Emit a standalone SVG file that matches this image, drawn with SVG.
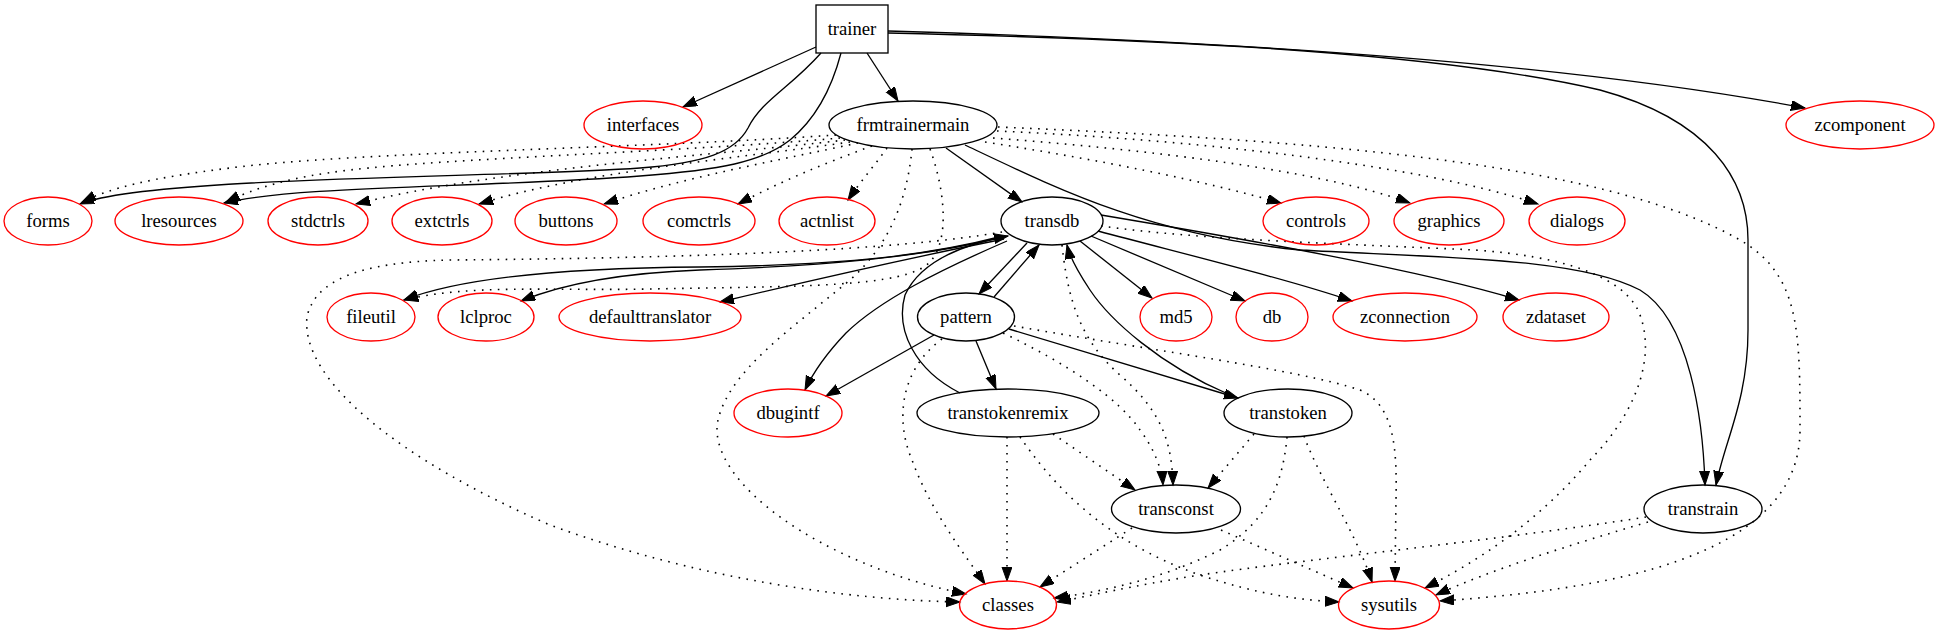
<svg xmlns="http://www.w3.org/2000/svg" width="1939" height="635" viewBox="0 0 1939 635">
<style>
.ext{fill:none;stroke:#ff0000;stroke-width:1.33}
.int{fill:none;stroke:#000000;stroke-width:1.33}
.lbl{font-family:'Liberation Serif','Times New Roman',serif;font-size:18.67px;fill:#000;text-anchor:middle}
.e{fill:none;stroke:#000;stroke-width:1.33;marker-end:url(#ah)}
.d{stroke-width:1.6;stroke-dasharray:1.6,6.4}
</style>
<defs>
<marker id="ah" markerUnits="userSpaceOnUse" markerWidth="16" markerHeight="12" refX="14" refY="5" orient="auto">
<path d="M0,0 L14,5 L0,10 Z" fill="#000" stroke="#000" stroke-width="1"/>
</marker>
</defs>
<rect width="1939" height="635" fill="#fff"/>
<g id="edges">
<path class="e" d="M816,47 L683,107"/>
<path class="e" d="M821,53 C790,88 762,100 748,128 C735,152 705,163 640,168 C500,178 150,176 80,204"/>
<path class="e" d="M841,53 C830,95 812,122 790,140 C762,162 720,170 640,176 C480,188 300,185 224,203"/>
<path class="e" d="M867,53 L898,101"/>
<path class="e" d="M888,31 C1200,40 1550,60 1805,108"/>
<path class="e" d="M888,33 C1200,40 1450,55 1600,90 C1710,120 1748,180 1748,240 L1748,330 C1748,400 1725,440 1716,485"/>
<path class="e" d="M946,148 L1022,202"/>
<path class="e" d="M965,145 C1060,190 1150,235 1300,250 C1450,258 1580,258 1640,290 C1690,320 1703,420 1705,485"/>
<path class="e" d="M1003,236 C930,255 850,265 700,267 C560,268 460,278 404,300"/>
<path class="e" d="M1003,237 C920,258 820,266 700,270 C620,273 560,285 521,301"/>
<path class="e" d="M1004,239 C920,256 800,283 720,302"/>
<path class="e" d="M1007,241 C940,270 880,300 846,333 C825,355 812,375 805,390"/>
<path class="e" d="M1027,243 L979,294"/>
<path class="e" d="M994,297 L1039,245"/>
<path class="e" d="M1080,241 L1152,298"/>
<path class="e" d="M1091,236 L1245,301"/>
<path class="e" d="M1098,231 C1200,258 1290,280 1352,301"/>
<path class="e" d="M1101,215 C1250,240 1420,270 1519,300"/>
<path class="e" d="M934,335 L826,396"/>
<path class="e" d="M976,341 L996,389"/>
<path class="e" d="M1009,329 L1238,398"/>
<path class="e" d="M960,393 C915,370 895,330 905,295 C920,262 960,245 1008,236"/>
<path class="e" d="M1228,394 C1160,365 1110,320 1090,290 C1078,272 1070,258 1067,245"/>
<path class="e d" d="M836,135 C650,148 350,152 230,168 C150,178 110,188 82,202"/>
<path class="e d" d="M840,138 C680,152 450,158 350,170 C290,177 255,188 226,202"/>
<path class="e d" d="M845,140 C720,155 500,168 356,204"/>
<path class="e d" d="M850,142 C740,158 580,172 479,204"/>
<path class="e d" d="M858,143 C780,160 680,178 604,204"/>
<path class="e d" d="M872,146 C820,165 780,182 738,204"/>
<path class="e d" d="M887,148 C875,165 860,182 848,200"/>
<path class="e d" d="M912,149 C908,190 895,240 850,280 C790,330 730,370 718,420 C705,480 820,565 966,594"/>
<path class="e d" d="M930,149 C945,190 950,240 930,262 C905,288 800,286 650,289 C550,291 470,284 404,300"/>
<path class="e d" d="M985,142 C1100,160 1200,180 1281,203"/>
<path class="e d" d="M993,138 C1150,150 1320,170 1410,203"/>
<path class="e d" d="M997,131 C1200,140 1420,165 1538,204"/>
<path class="e d" d="M998,127 C1300,140 1600,160 1740,240 C1800,275 1800,330 1800,430 C1800,560 1600,590 1440,601"/>
<path class="e d" d="M1002,232 C900,250 700,258 450,260 C360,262 315,280 307,317 C300,380 400,460 550,525 C700,580 850,600 960,602"/>
<path class="e d" d="M1062,245 C1068,300 1080,340 1120,375 C1160,410 1172,440 1173,485"/>
<path class="e d" d="M1101,226 C1200,240 1350,244 1475,250 C1560,256 1620,275 1638,310 C1660,360 1630,420 1590,460 C1540,520 1480,560 1425,588"/>
<path class="e d" d="M942,339 C900,370 895,420 912,460 C930,510 965,555 985,584"/>
<path class="e d" d="M1003,333 C1070,365 1120,400 1140,430 C1155,450 1162,470 1163,485"/>
<path class="e d" d="M1014,326 C1150,350 1300,370 1360,390 C1395,405 1397,450 1396,500 L1395,581"/>
<path class="e d" d="M1007,437 L1007,581"/>
<path class="e d" d="M1053,434 L1135,490"/>
<path class="e d" d="M1020,437 C1050,480 1100,540 1200,575 C1260,595 1300,600 1339,602"/>
<path class="e d" d="M1254,434 L1208,488"/>
<path class="e d" d="M1287,437 C1283,480 1270,520 1220,550 C1160,580 1100,592 1054,598"/>
<path class="e d" d="M1304,436 C1320,480 1355,530 1372,582"/>
<path class="e d" d="M1132,528 L1040,587"/>
<path class="e d" d="M1221,530 L1353,588"/>
<path class="e d" d="M1646,517 C1500,540 1300,560 1200,575 C1130,586 1090,596 1057,602"/>
<path class="e d" d="M1648,522 C1570,545 1490,570 1436,595"/>
</g>
<g id="node-trainer"><rect class="int" x="816" y="5" width="72" height="48"/><text class="lbl" x="852" y="34.6" font-family="Liberation Serif, serif">trainer</text></g>
<g id="node-interfaces"><ellipse class="ext" cx="643" cy="125" rx="59" ry="24"/><text class="lbl" x="643" y="130.6">interfaces</text></g>
<g id="node-frmtrainermain"><ellipse class="int" cx="913" cy="125" rx="84" ry="24"/><text class="lbl" x="913" y="130.6">frmtrainermain</text></g>
<g id="node-zcomponent"><ellipse class="ext" cx="1860" cy="125" rx="74" ry="24"/><text class="lbl" x="1860" y="130.6">zcomponent</text></g>
<g id="node-forms"><ellipse class="ext" cx="48" cy="221" rx="44" ry="24"/><text class="lbl" x="48" y="226.6">forms</text></g>
<g id="node-lresources"><ellipse class="ext" cx="179" cy="221" rx="64" ry="24"/><text class="lbl" x="179" y="226.6">lresources</text></g>
<g id="node-stdctrls"><ellipse class="ext" cx="318" cy="221" rx="50" ry="24"/><text class="lbl" x="318" y="226.6">stdctrls</text></g>
<g id="node-extctrls"><ellipse class="ext" cx="442" cy="221" rx="50" ry="24"/><text class="lbl" x="442" y="226.6">extctrls</text></g>
<g id="node-buttons"><ellipse class="ext" cx="566" cy="221" rx="51" ry="24"/><text class="lbl" x="566" y="226.6">buttons</text></g>
<g id="node-comctrls"><ellipse class="ext" cx="699" cy="221" rx="56" ry="24"/><text class="lbl" x="699" y="226.6">comctrls</text></g>
<g id="node-actnlist"><ellipse class="ext" cx="827" cy="221" rx="48" ry="24"/><text class="lbl" x="827" y="226.6">actnlist</text></g>
<g id="node-transdb"><ellipse class="int" cx="1052" cy="221" rx="51" ry="24"/><text class="lbl" x="1052" y="226.6">transdb</text></g>
<g id="node-controls"><ellipse class="ext" cx="1316" cy="221" rx="53" ry="24"/><text class="lbl" x="1316" y="226.6">controls</text></g>
<g id="node-graphics"><ellipse class="ext" cx="1449" cy="221" rx="55" ry="24"/><text class="lbl" x="1449" y="226.6">graphics</text></g>
<g id="node-dialogs"><ellipse class="ext" cx="1577" cy="221" rx="48" ry="24"/><text class="lbl" x="1577" y="226.6">dialogs</text></g>
<g id="node-fileutil"><ellipse class="ext" cx="371" cy="317" rx="44" ry="24"/><text class="lbl" x="371" y="322.6">fileutil</text></g>
<g id="node-lclproc"><ellipse class="ext" cx="486" cy="317" rx="48" ry="24"/><text class="lbl" x="486" y="322.6">lclproc</text></g>
<g id="node-defaulttranslator"><ellipse class="ext" cx="650" cy="317" rx="91" ry="24"/><text class="lbl" x="650" y="322.6">defaulttranslator</text></g>
<g id="node-pattern"><ellipse class="int" cx="966" cy="317" rx="48.5" ry="24"/><text class="lbl" x="966" y="322.6">pattern</text></g>
<g id="node-md5"><ellipse class="ext" cx="1176" cy="317" rx="36" ry="24"/><text class="lbl" x="1176" y="322.6">md5</text></g>
<g id="node-db"><ellipse class="ext" cx="1272" cy="317" rx="36" ry="24"/><text class="lbl" x="1272" y="322.6">db</text></g>
<g id="node-zconnection"><ellipse class="ext" cx="1405" cy="317" rx="72" ry="24"/><text class="lbl" x="1405" y="322.6">zconnection</text></g>
<g id="node-zdataset"><ellipse class="ext" cx="1556" cy="317" rx="53" ry="24"/><text class="lbl" x="1556" y="322.6">zdataset</text></g>
<g id="node-dbugintf"><ellipse class="ext" cx="788" cy="413" rx="54" ry="24"/><text class="lbl" x="788" y="418.6">dbugintf</text></g>
<g id="node-transtokenremix"><ellipse class="int" cx="1008" cy="413" rx="91" ry="24"/><text class="lbl" x="1008" y="418.6">transtokenremix</text></g>
<g id="node-transtoken"><ellipse class="int" cx="1288" cy="413" rx="64" ry="24"/><text class="lbl" x="1288" y="418.6">transtoken</text></g>
<g id="node-transconst"><ellipse class="int" cx="1176" cy="509" rx="64.5" ry="24"/><text class="lbl" x="1176" y="514.6">transconst</text></g>
<g id="node-transtrain"><ellipse class="int" cx="1703" cy="509" rx="59" ry="24"/><text class="lbl" x="1703" y="514.6">transtrain</text></g>
<g id="node-classes"><ellipse class="ext" cx="1008" cy="605" rx="48.5" ry="24"/><text class="lbl" x="1008" y="610.6">classes</text></g>
<g id="node-sysutils"><ellipse class="ext" cx="1389" cy="605" rx="50.5" ry="24"/><text class="lbl" x="1389" y="610.6">sysutils</text></g>
</svg>
